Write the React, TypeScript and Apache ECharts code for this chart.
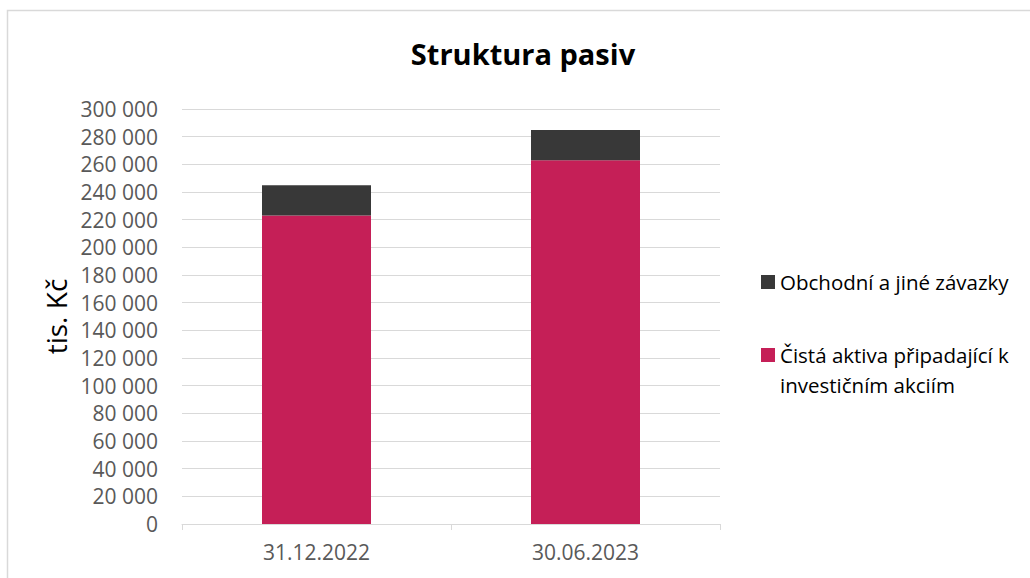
import React, { useEffect, useRef } from "react";
import * as echarts from "echarts";

const categories = ["31.12.2022", "30.06.2023"];
const netAssets = [223100, 263000];
const payables = [21800, 21800];
const seriesNames = ["Čistá aktiva připadající k investičním akciím", "Obchodní a jiné závazky"];
const legendLine1 = "Čistá aktiva připadající k";
const legendLine2 = "investičním akciím";
const yTitle = "tis. Kč";
const chartTitle = "Struktura pasiv";

const FONT = "'Open Sans', sans-serif";

export default function App() {
  const ref = useRef<HTMLDivElement>(null);
  useEffect(() => {
    document.body.style.margin = "0";
    const chart = echarts.init(ref.current!, null, { renderer: "svg" });
    const fmt = (v: number) => String(v).replace(/\B(?=(\d{3})+(?!\d))/g, " ");
    chart.setOption({
      animation: false,
      backgroundColor: "#ffffff",
      title: {
        text: chartTitle,
        left: 523,
        top: 39,
        padding: 0,
        textAlign: "center",
        textStyle: { fontFamily: FONT, fontSize: 29, fontWeight: "bold", color: "#000000" },
      },
      grid: { left: 182, right: 310, top: 109, bottom: 54, containLabel: false },
      legend: [
        {
          data: [seriesNames[1]],
          orient: "vertical",
          left: 761,
          top: 268,
          padding: 0,
          itemWidth: 14,
          itemHeight: 14,
          icon: "rect",
          textStyle: { fontFamily: FONT, fontSize: 20.5, color: "#000000", lineHeight: 28 },
        },
        {
          data: [seriesNames[0]],
          orient: "vertical",
          left: 761,
          top: 341,
          padding: 0,
          itemWidth: 14,
          itemHeight: 14,
          icon: "rect",
          formatter: () => legendLine1,
          textStyle: { fontFamily: FONT, fontSize: 20.5, color: "#000000", lineHeight: 28 },
        },
      ],
      graphic: [
        {
          type: "rect",
          shape: { x: 7.5, y: 10.5, width: 1200, height: 800 },
          style: { fill: "none", stroke: "#d9d9d9", lineWidth: 1.5 },
          silent: true,
          z: -10,
        },
        {
          type: "text",
          x: 780,
          y: 385,
          style: {
            text: legendLine2,
            font: `20.5px ${FONT}`,
            fill: "#000000",
            textVerticalAlign: "middle",
          },
        },
      ],
      xAxis: {
        type: "category",
        data: categories,
        axisLine: { lineStyle: { color: "#d9d9d9", width: 1 } },
        axisTick: { show: true, length: 6, lineStyle: { color: "#d9d9d9" } },
        axisLabel: { fontFamily: FONT, fontSize: 21, color: "#595959", margin: 17 },
      },
      yAxis: {
        type: "value",
        min: 0,
        max: 300000,
        interval: 20000,
        name: yTitle,
        nameLocation: "middle",
        nameGap: 111,
        nameRotate: 90,
        nameTextStyle: { fontFamily: FONT, fontSize: 28, color: "#000000" },
        axisLine: { show: false },
        axisTick: { show: false },
        splitLine: { lineStyle: { color: "#d9d9d9", width: 1 } },
        axisLabel: { fontFamily: FONT, fontSize: 21, color: "#595959", margin: 24, formatter: fmt },
      },
      series: [
        {
          name: seriesNames[0],
          type: "bar",
          stack: "total",
          data: netAssets,
          barWidth: 109,
          itemStyle: { color: "#C51F57" },
        },
        {
          name: seriesNames[1],
          type: "bar",
          stack: "total",
          data: payables,
          barWidth: 109,
          itemStyle: { color: "#383838" },
        },
      ],
    });
    return () => chart.dispose();
  }, []);
  return (
    <div
      ref={ref}
      style={{ position: "absolute", left: 0, top: 0, width: 1030, height: 578 }}
    />
  );
}
